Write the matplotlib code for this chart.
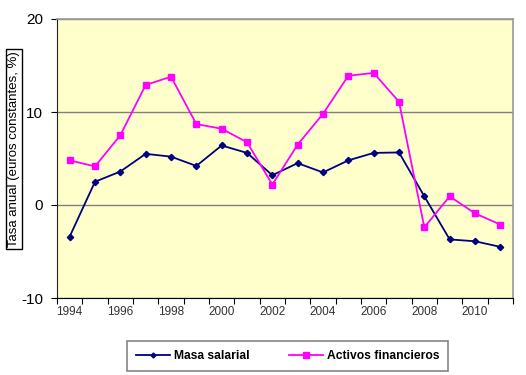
import matplotlib
matplotlib.use("Agg")
import matplotlib.pyplot as plt
from matplotlib.lines import Line2D

plt.rcParams['font.family'] = ['Liberation Sans', 'DejaVu Sans']

years = list(range(1994, 2012))
masa_salarial = [-3.4, 2.5, 3.6, 5.5, 5.2, 4.2, 6.4, 5.6, 3.2, 4.5, 3.5, 4.8, 5.6, 5.65, 0.93, -3.7, -3.9, -4.5]
activos_financieros = [4.8, 4.15, 7.5, 12.9, 13.8, 8.7, 8.2, 6.75, 2.2, 6.5, 9.8, 13.9, 14.2, 11.1, -2.4, 0.93, -0.9, -2.1]
year_labels = [str(y) for y in years]

fig = plt.figure(figsize=(5.26, 3.75), dpi=100)
W, H = 526, 375
left, right, top, bottom = 57, 513, 19, 298
ax = fig.add_axes([left / W, 1 - bottom / H, (right - left) / W, (bottom - top) / H])
ax.set_facecolor('#FFFFCC')

x = list(range(len(years)))
ax.plot(x, masa_salarial, color='#000080', lw=1.3, marker='D', ms=3.2, mec='#000080', mfc='#000080', label='Masa salarial', zorder=3)
ax.plot(x, activos_financieros, color='#FF00FF', lw=1.3, marker='s', ms=4.8, mec='#FF00FF', mfc='#FF00FF', label='Activos financieros', zorder=3)

ax.set_xlim(-0.5, len(years) - 0.5)
ax.set_ylim(-10, 20)
ax.set_yticks([-10, 0, 10, 20])
ax.set_yticklabels(['-10', '0', '10', '20'], fontsize=11)
ax.yaxis.grid(True, color='#808080', lw=1.0)
ax.set_axisbelow(True)

ax.set_xticks([i - 0.5 for i in range(len(years) + 1)])
ax.set_xticklabels([])
ax.set_xticks(x[::2], minor=True)
ax.set_xticklabels(year_labels[::2], minor=True, fontsize=8.5, color='#333333')
ax.tick_params(axis='x', which='major', direction='out', length=4, color='black')
ax.tick_params(axis='x', which='minor', length=0, pad=6)
ax.tick_params(axis='y', direction='out', length=4, color='black', pad=6)

for s in ['top', 'right']:
    ax.spines[s].set_color('#999999')
    ax.spines[s].set_linewidth(1.2)
ax.spines['left'].set_color('#222222')
ax.spines['bottom'].set_color('black')

fig.text(14 / W, 1 - 149 / H, 'Tasa anual (euros constantes, %)', rotation=90,
         ha='center', va='center', fontsize=9.5,
         bbox=dict(boxstyle='square,pad=0.15', fc='white', ec='black', lw=1))

handles = [Line2D([], [], color='#000080', lw=1.3, marker='D', ms=2.5),
           Line2D([], [], color='#FF00FF', lw=1.3, marker='s', ms=4)]
leg = fig.legend(handles, ['Masa salarial', 'Activos financieros'], ncol=2,
                 loc='center', bbox_to_anchor=((125.7 + 450) / 2 / W, 1 - 356 / H),
                 prop={'weight': 'bold', 'size': 8.7}, frameon=True, fancybox=False,
                 edgecolor='#666666', handlelength=2.8, columnspacing=3.3,
                 borderpad=0.75, handletextpad=0.3)
leg.get_frame().set_linewidth(1.2)

fig.savefig('out.png', dpi=100)
